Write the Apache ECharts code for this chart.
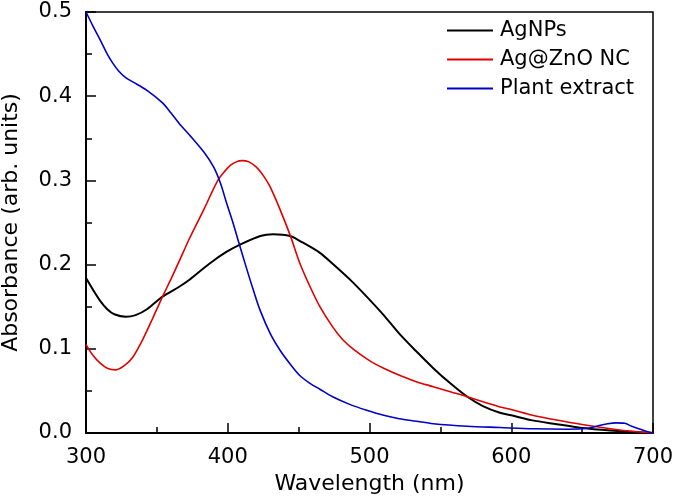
<!DOCTYPE html>
<html>
<head>
<meta charset="utf-8">
<script src="https://cdn.jsdelivr.net/npm/echarts@6/dist/echarts.min.js"></script>
<style>
html,body{margin:0;padding:0;background:#fff;}
#chart{width:675px;height:500px;}
</style>
</head>
<body>
<div id="chart"></div>
<script>
// Series names
const seriesNames = ['AgNPs', 'Ag@ZnO NC', 'Plant extract'];

// AgNPs (black)
const agWl  = [300,305,310,315,320,328,335,343,354,366,373,387,399,409,423,432,444,451,465,474,487,498,510,521,533,545,557,569,580,592,600,615,630,650,670,690,700];
const agAbs = [0.184,0.170,0.157,0.147,0.141,0.138,0.140,0.147,0.162,0.174,0.182,0.201,0.215,0.224,0.234,0.236,0.234,0.228,0.214,0.201,0.181,0.162,0.140,0.118,0.097,0.077,0.059,0.043,0.032,0.024,0.021,0.015,0.011,0.006,0.003,0.001,0.0];

// Ag@ZnO NC (red)
const znWl  = [300,305,310,315,321,327,333,340,347,354,360,366,373,383,393,398,402,406,410,415,420,425,430,437,444,451,458,465,474,481,489,500,510,522,533,545,557,569,580,592,600,615,630,650,670,685,700];
const znAbs = [0.105,0.092,0.083,0.077,0.075,0.080,0.090,0.111,0.136,0.162,0.183,0.205,0.231,0.265,0.300,0.311,0.318,0.322,0.3235,0.322,0.316,0.306,0.292,0.265,0.235,0.201,0.174,0.150,0.126,0.111,0.099,0.086,0.077,0.068,0.061,0.055,0.049,0.043,0.037,0.031,0.028,0.021,0.016,0.010,0.005,0.002,0.0];

// Plant extract (blue)
const plWl  = [300,305,310,315,319,323,328,333,343,354,360,366,373,383,390,395,399,404,408,413,418,423,430,437,444,451,458,465,474,486,498,510,521,533,545,569,592,615,640,655,662,668,674,680,685,690,695,700];
const plAbs = [0.500,0.483,0.467,0.450,0.439,0.430,0.422,0.417,0.407,0.392,0.380,0.367,0.354,0.334,0.316,0.296,0.274,0.248,0.225,0.197,0.170,0.145,0.118,0.098,0.082,0.068,0.059,0.052,0.043,0.034,0.027,0.021,0.017,0.014,0.011,0.008,0.0065,0.005,0.0045,0.006,0.009,0.011,0.012,0.0115,0.008,0.005,0.002,0.0];

// Axis ticks
const xTicks = [300, 400, 500, 600, 700];
const yTicks = [0.0, 0.1, 0.2, 0.3, 0.4, 0.5];

const FONT = '"DejaVu Sans", "Liberation Sans", Arial, sans-serif';
const colors = ['#000000', '#e00000', '#0000c8'];
const pairs = (xs, ys) => xs.map((x, i) => [x, ys[i]]);

const chart = echarts.init(document.getElementById('chart'), null, {renderer: 'canvas'});
chart.setOption({
  animation: false,
  backgroundColor: '#fff',
  grid: {
    left: 86, right: 22, top: 12, bottom: 67,
    outerBoundsMode: 'none',
    containLabel: false,
    show: true, borderColor: '#000', borderWidth: 1.5, backgroundColor: 'transparent'
  },
  legend: {
    orient: 'vertical',
    left: 447, top: 20,
    padding: 0,
    icon: 'rect',
    itemWidth: 46, itemHeight: 2, itemGap: 8,
    textStyle: {fontFamily: FONT, fontSize: 21, color: '#000', lineHeight: 20, padding: [0, 0, 0, 2]},
    data: seriesNames.map((n, i) => ({name: n, itemStyle: {color: colors[i]}}))
  },
  xAxis: {
    type: 'value',
    min: xTicks[0], max: xTicks[xTicks.length - 1], interval: 100,
    name: 'Wavelength (nm)',
    nameLocation: 'middle', nameGap: 31,
    nameTextStyle: {fontFamily: FONT, fontSize: 22, color: '#000'},
    axisLine: {show: true, onZero: false, lineStyle: {color: '#000', width: 2}},
    axisTick: {show: true, inside: true, length: 10, lineStyle: {color: '#000', width: 1.5}},
    minorTick: {show: true, splitNumber: 2, length: 6, lineStyle: {color: '#000', width: 1.5}},
    splitLine: {show: false},
    axisLabel: {fontFamily: FONT, fontSize: 21, color: '#000', margin: 14}
  },
  yAxis: {
    type: 'value',
    min: yTicks[0], max: yTicks[yTicks.length - 1], interval: 0.1,
    name: 'Absorbance (arb. units)',
    nameLocation: 'middle', nameGap: 64, nameRotate: 90,
    nameTextStyle: {fontFamily: FONT, fontSize: 22, color: '#000'},
    axisLine: {show: true, onZero: false, lineStyle: {color: '#000', width: 2}},
    axisTick: {show: true, inside: true, length: 10, lineStyle: {color: '#000', width: 1.5}},
    minorTick: {show: true, splitNumber: 2, length: 6, lineStyle: {color: '#000', width: 1.5}},
    splitLine: {show: false},
    axisLabel: {fontFamily: FONT, fontSize: 21, color: '#000', margin: 14,
      formatter: v => v.toFixed(1)}
  },
  series: [
    {name: seriesNames[0], type: 'line', data: pairs(agWl, agAbs), smooth: 0.3, symbol: 'none',
     lineStyle: {color: colors[0], width: 2}, itemStyle: {color: colors[0]}},
    {name: seriesNames[1], type: 'line', data: pairs(znWl, znAbs), smooth: 0.3, symbol: 'none',
     lineStyle: {color: colors[1], width: 1.6}, itemStyle: {color: colors[1]}},
    {name: seriesNames[2], type: 'line', data: pairs(plWl, plAbs), smooth: 0.3, symbol: 'none',
     lineStyle: {color: colors[2], width: 1.6}, itemStyle: {color: colors[2]}}
  ]
});
</script>
</body>
</html>
